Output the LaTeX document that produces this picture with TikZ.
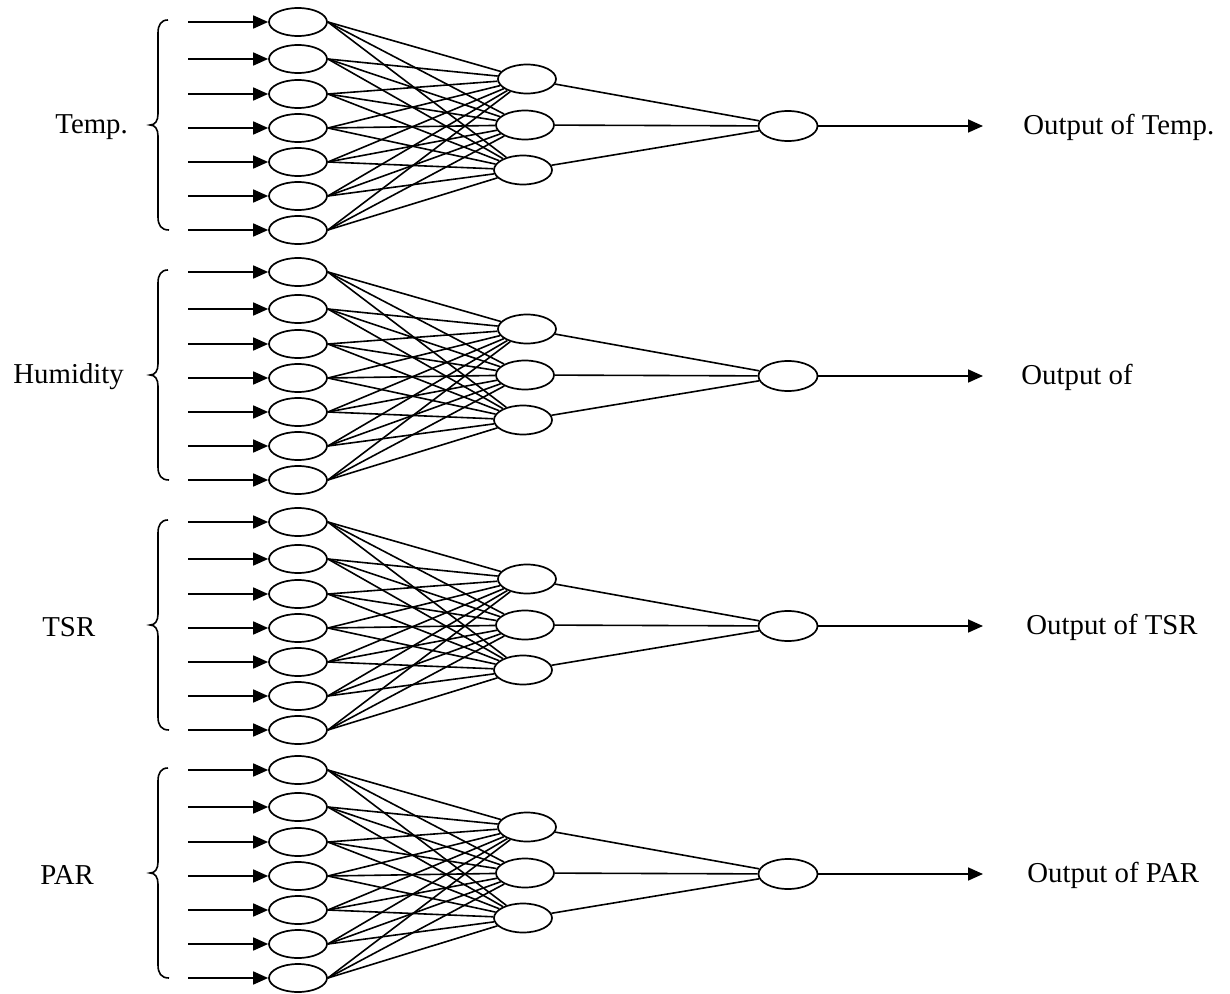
\documentclass[tikz,border=0pt]{standalone}
\usepackage{fontspec}
\setmainfont{Liberation Serif}
\usetikzlibrary{arrows.meta,shapes.geometric}
\tikzset{
  x=0.5pt,y=-0.5pt,
  neuron/.style={draw,ellipse,line width=0.85pt,inner sep=0pt},
  inp/.style={neuron,minimum width=29pt,minimum height=14pt},
  hid/.style={neuron,minimum width=29pt,minimum height=14.5pt},
  outn/.style={neuron,minimum width=29.5pt,minimum height=15pt},
  conn/.style={line width=0.8pt},
  arr/.style={line width=0.85pt,-{Triangle[length=7.5pt,width=6.5pt]}},
  bracepath/.style={line width=0.8pt},
  lbl/.style={inner sep=0pt,font=\fontsize{14.4}{17}\selectfont}
}
\newcommand{\nnblock}[6]{%
  \foreach \k/\yy in {1/22,2/59,3/94,4/128,5/162,6/196,7/230}{%
    \node[inp] (#2i\k) at (298,#1+\yy) {};
    \coordinate (#2s\k) at (188,#1+\yy);
    \draw[arr] (#2s\k) -- (#2i\k);
  }
  \foreach \k/\xx/\yy in {1/527/79,2/525/125,3/523/170}{%
    \node[hid] (#2h\k) at (\xx,#1+\yy) {};
  }
  \node[outn] (#2o) at (788,#1+126) {};
  \foreach \a in {1,...,7}{%
    \foreach \b in {1,2,3}{%
      \draw[conn] (#2i\a.east) -- (#2h\b);
    }
  }
  \foreach \b in {1,2,3}{%
    \draw[conn] (#2h\b) -- (#2o);
  }
  \coordinate (#2e) at (983,#1+126);
  \draw[arr] (#2o) -- (#2e);
  \draw[bracepath] (168,#1+20) .. controls (161,#1+20) and (158,#1+25) .. (158,#1+33)
     -- (158,#1+114) .. controls (158,#1+121) and (155,#1+125) .. (150,#1+125)
     .. controls (155,#1+125) and (158,#1+129) .. (158,#1+136)
     -- (158,#1+217) .. controls (158,#1+225) and (161,#1+230) .. (169,#1+230);
  \node[lbl,anchor=west] (#2l) at (#4,#1+127) {#3};
  \node[lbl,anchor=west] (#2t) at (#6,#1+127) {#5};
}
\begin{document}
\begin{tikzpicture}
  \useasboundingbox (0,0) rectangle (1230,994);
  \nnblock{0}{A}{Temp.}{55}{Output of Temp.}{1023}
  \nnblock{250}{B}{Humidity}{13}{Output of}{1021}
  \nnblock{500}{C}{TSR}{42}{Output of TSR}{1026}
  \nnblock{748}{D}{PAR}{40}{Output of PAR}{1027}
\end{tikzpicture}
\end{document}
